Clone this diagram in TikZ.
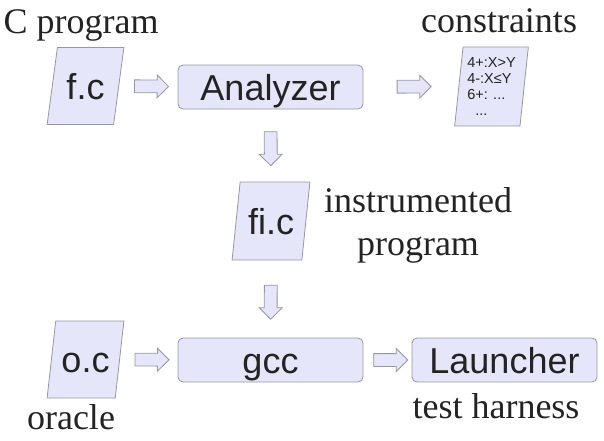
\documentclass[tikz,border=0pt]{standalone}
\usepackage{fontspec}
\setmainfont{Liberation Serif}
\setsansfont{Liberation Sans}
\usetikzlibrary{shapes.geometric,shapes.arrows}
\definecolor{lav}{RGB}{230,230,250}
\definecolor{rim}{RGB}{150,150,165}
\definecolor{ink}{RGB}{35,35,35}
\tikzset{tool/.style={draw=rim,fill=lav,rounded corners=5pt,line width=.8pt,minimum width=185pt,
    minimum height=44pt,inner sep=0pt,text height=26pt,text depth=0pt,text=ink,
    font=\sffamily\fontsize{36}{36}\selectfont},
  srcfile/.style={trapezium,trapezium left angle=75,trapezium right angle=105,trapezium stretches=true,
    draw=rim,fill=lav,line width=.8pt,inner sep=0pt,minimum width=77pt,minimum height=77pt,
    text=ink,font=\sffamily\fontsize{36}{36}\selectfont},
  srcname/.style={srcfile,text height=26pt,text depth=0pt},
  flow/.style={single arrow,draw=rim,fill=lav,line width=.8pt,inner sep=0pt,text height=6pt,
    text depth=6pt,single arrow head extend=5pt,minimum height=34pt,sloped,allow upside down},
  caption/.style={text=ink,font=\fontsize{36}{43}\selectfont}}

\begin{document}
\begin{tikzpicture}[x=1pt,y=-1pt]
  \path[use as bounding box] (0,0) rectangle (604,440);
  \node[srcname] (fc) at (85.5,86) {f.c};
  \node[tool] (an) at (270.5,87) {Analyzer};
  \node[srcfile,trapezium left angle=83,trapezium right angle=97,minimum width=74pt,minimum height=79pt,
    align=left,font=\sffamily\fontsize{14.5}{16}\selectfont] (cs) at (491.5,86.5)
    {4+:X>Y\\4-:X≤Y\\6+: ...\\\hspace{8pt}...};
  \node[srcname,trapezium left angle=77,trapezium right angle=103,minimum width=78pt,minimum height=78pt]
    (fic) at (271,221) {fi.c};
  \node[tool] (gcc) at (270.5,360) {gcc};
  \node[tool] (la) at (504.5,360) {Launcher};
  \node[srcname] (oc) at (85.5,359.5) {o.c};
  \node[caption,anchor=base west] (lfc) at (0,33) {C program};
  \node[caption,anchor=base] (lcs) at (499,32) {constraints};
  \node[caption,anchor=base,align=center] (lfic) at (418,255) {instrumented\\program};
  \node[caption,anchor=base] (loc) at (71,429) {oracle};
  \node[caption,anchor=base] (lla) at (496,418) {test harness};
  \path (fc) -- node[flow] (a1) {} (an);
  \path (an) -- node[flow] (a2) {} (cs);
  \path (an) -- node[flow] (a3) {} (fic);
  \path (fic) -- node[flow] (a4) {} (gcc);
  \path (oc) -- node[flow] (a5) {} (gcc);
  \path (gcc) -- node[flow] (a6) {} (la);
\end{tikzpicture}
\end{document}
